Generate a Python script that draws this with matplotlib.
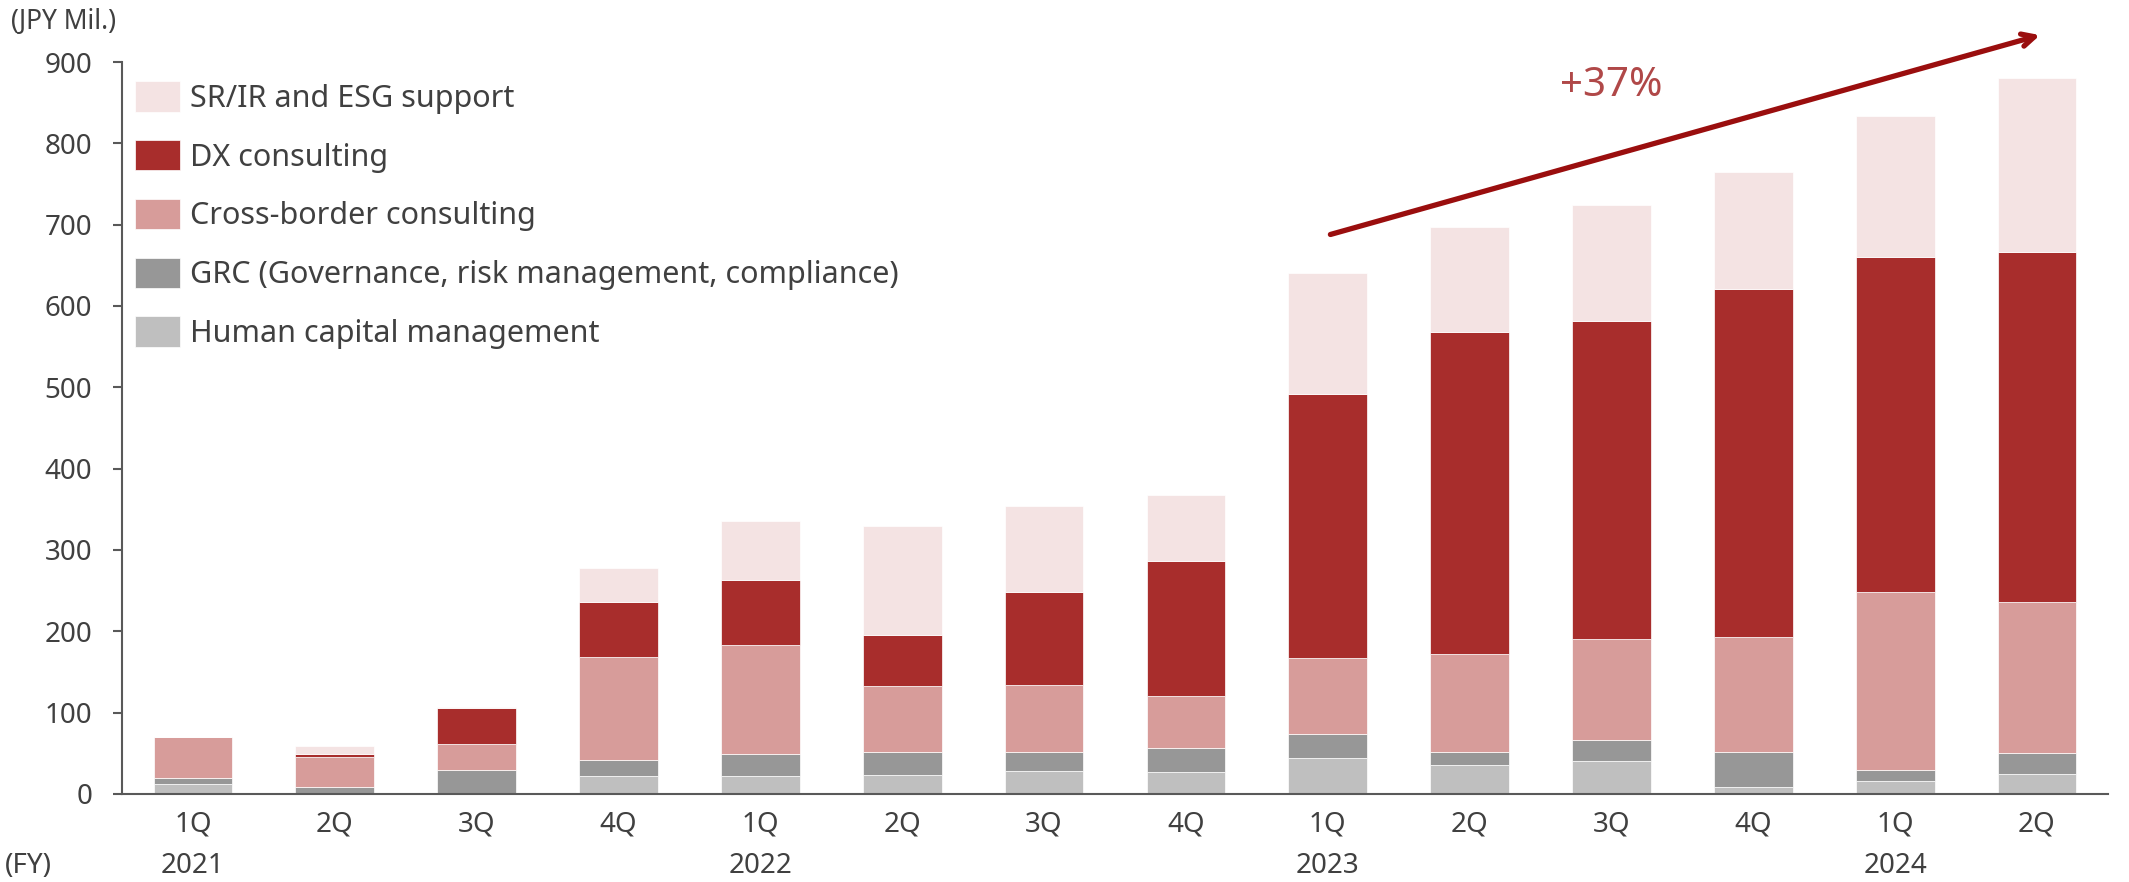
import matplotlib.pyplot as plt
import numpy as np

# Quarterly sales by service line (JPY Mil.)
quarters = ['1Q\n2021', '2Q', '3Q', '4Q',
            '1Q\n2022', '2Q', '3Q', '4Q',
            '1Q\n2023', '2Q', '3Q', '4Q',
            '1Q\n2024', '2Q']
human_capital = [12, 0, 0, 22, 22, 23, 28, 27, 44, 36, 40, 9, 16, 25]
grc = [8, 9, 29, 20, 27, 28, 24, 29, 30, 16, 26, 42, 14, 25]
cross_border = [50, 36, 33, 126, 134, 82, 82, 65, 93, 120, 124, 142, 218, 186]
dx = [0, 4, 44, 68, 80, 63, 114, 166, 325, 396, 391, 428, 412, 431]
sr_ir_esg = [0, 10, 1, 42, 73, 133, 106, 81, 148, 129, 143, 144, 173, 213]

series = [
    ('Human capital management', human_capital, '#bfbfbf'),
    ('GRC (Governance, risk management, compliance)', grc, '#979797'),
    ('Cross-border consulting', cross_border, '#d79c9a'),
    ('DX consulting', dx, '#a82d2c'),
    ('SR/IR and ESG support', sr_ir_esg, '#f4e3e3'),
]

growth_label = '+37%'

plt.rcParams['font.family'] = ['Noto Sans', 'DejaVu Sans']
text_color = '#404040'

fig = plt.figure(figsize=(21.29, 8.82), dpi=100)
ax = fig.add_axes([0.0573, 0.0998, 0.9328, 0.8299])

x = np.arange(len(quarters))
bottom = np.zeros(len(quarters))
handles = []
for name, vals, color in series:
    vals = np.asarray(vals, dtype=float)
    b = ax.bar(x, vals, 0.555, bottom=bottom, color=color, label=name,
               edgecolor='white', linewidth=0.5)
    handles.append(b)
    bottom += vals

ax.set_xlim(-0.5, 13.5)
ax.set_ylim(0, 900)
ax.set_yticks(range(0, 901, 100))
ax.set_xticks(x)
ax.set_xticklabels(quarters, linespacing=1.65)

for s in ['top', 'right']:
    ax.spines[s].set_visible(False)
for s in ['left', 'bottom']:
    ax.spines[s].set_color('#595959')
    ax.spines[s].set_linewidth(1.5)

ax.tick_params(axis='y', length=6.5, width=1.5, color='#595959',
               labelsize=20, labelcolor=text_color, pad=15)
ax.tick_params(axis='x', length=0, labelsize=20, labelcolor=text_color, pad=12)

leg = ax.legend(handles[::-1], [s[0] for s in series][::-1],
                loc='upper left', bbox_to_anchor=(-0.004, 1.003),
                frameon=False, fontsize=22, labelcolor=text_color,
                handlelength=1.47, handleheight=1.15, handletextpad=0.33,
                labelspacing=0.86, borderaxespad=0.3)

# growth arrow
ax.annotate('', xy=(13.04, 934), xytext=(8.0, 687),
            arrowprops=dict(arrowstyle='->,head_length=0.9,head_width=0.45',
                            color='#9a0e0e', lw=3.8),
            annotation_clip=False)
ax.text(10.0, 870, growth_label, ha='center', va='center', fontsize=29,
        color='#b04848', fontweight='bold')

fig.text(11 / 2129, 1 - 22 / 882, '(JPY Mil.)', ha='left', va='center',
         fontsize=19, color=text_color)
fig.text(5 / 2129, 1 - 866 / 882, '(FY)', ha='left', va='center',
         fontsize=20, color=text_color)

fig.savefig('out.png', dpi=100)
